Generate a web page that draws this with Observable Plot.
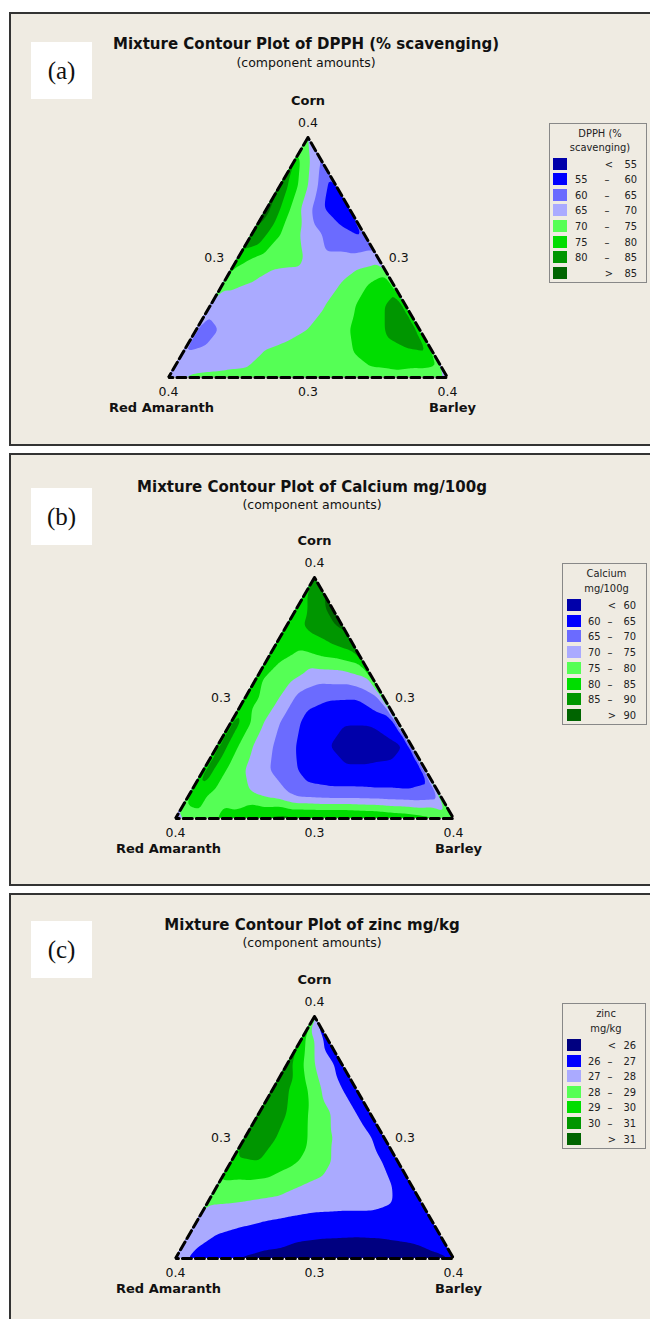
<!DOCTYPE html>
<html><head><meta charset="utf-8">
<script src="https://cdn.jsdelivr.net/npm/d3@7"></script>
<script src="https://cdn.jsdelivr.net/npm/@observablehq/plot@0.6"></script>
<style>
body{margin:0;background:#fff;width:650px;height:1319px;overflow:hidden;position:relative;font-family:"DejaVu Sans",Verdana,sans-serif;}
.panel{position:absolute;left:9px;width:660px;background:#EFEBE2;border:2px solid #333;box-sizing:border-box;}
.abs{position:absolute;white-space:nowrap;}
.title{font-weight:bold;font-size:15px;transform:translate(-50%,-50%);color:#111;}
.sub{font-size:12.5px;transform:translate(-50%,-50%);color:#111;}
.tag{background:#fff;font-family:"Liberation Serif","DejaVu Serif",serif;font-size:25px;display:flex;align-items:center;justify-content:center;color:#111;}
.legend{position:absolute;border:1px solid #888;box-sizing:border-box;background:#EFEBE2;}
.lt{font-family:"DejaVu Sans Condensed","DejaVu Sans",sans-serif;font-size:11px;color:#222;transform:translate(-50%,-50%);}
.lr{font-family:"DejaVu Sans Condensed","DejaVu Sans",sans-serif;font-size:11px;color:#222;transform:translateY(-50%);}
svg{position:absolute;left:0;}
</style>
</head><body>
<script>
// ---------- data ----------
const componentNames = ["Corn", "Red Amaranth", "Barley"];
const vertexAmount = "0.4";
const midAmount = "0.3";

// DPPH (% scavenging): values read on a triangular lattice, rows top (Corn) to bottom,
// each row left (Red Amaranth) to right (Barley)
const dpphBreaks = [55, 60, 65, 70, 75, 80, 85];
const dpphColors = ["#0000AA", "#0000FF", "#6B6BFF", "#AAAAFF", "#55FF55", "#00DD00", "#009600", "#006400"];
const dpphRows = [
  [70],
  [78, 64],
  [84, 70, 56],
  [87, 73, 60.5, 56],
  [86, 75, 68, 62, 59],
  [77, 73, 72, 66, 66, 68],
  [72, 70, 67, 67, 69, 74, 78],
  [66, 67, 67, 67.5, 69.5, 74, 79, 83],
  [63, 65.5, 67, 68, 70, 73, 77, 81, 82],
  [65, 66, 67, 70.5, 72, 73, 74.5, 78, 79.5, 80],
  [69.5, 71, 71.5, 72, 72, 72, 72, 72.5, 73, 72, 69]
];

// Calcium mg/100g
const calciumBreaks = [60, 65, 70, 75, 80, 85, 90];
const calciumColors = ["#0000AA", "#0000FF", "#6B6BFF", "#AAAAFF", "#55FF55", "#00DD00", "#009600", "#006400"];
const calciumRows = [
  [88],
  [83, 91],
  [82, 87, 91],
  [82, 80, 83, 86],
  [81, 78, 73, 73.5, 77],
  [83, 77, 68, 65.5, 65.2, 71],
  [89, 76.5, 68, 62, 60.5, 60.5, 64],
  [89.5, 77, 70, 64, 60.2, 57, 58, 61],
  [89, 78, 72, 67, 62, 61, 61, 61.5, 63],
  [84, 78, 76, 73, 68, 67, 67, 66.5, 66, 67],
  [73, 78, 82, 86, 87, 87, 87, 86, 84, 82, 77]
];

// zinc mg/kg
const zincBreaks = [26, 27, 28, 29, 30, 31];
const zincColors = ["#000080", "#0000FF", "#AAAAFF", "#55FF55", "#00DD00", "#009600", "#006400"];
const zincRows = [
  [27],
  [29.5, 26.5],
  [30.5, 28, 26.6],
  [30.7, 29.5, 27.5, 26.5],
  [30.8, 30, 28.7, 27.5, 26.5],
  [30.7, 30.1, 29.3, 28.1, 27.5, 26.6],
  [29.8, 30, 29.3, 28.6, 27.6, 27.3, 26.6],
  [28.8, 28.7, 28.5, 28, 27.6, 27.4, 27.2, 26.5],
  [27.8, 27.7, 27.5, 27.3, 27.1, 27.05, 27.05, 26.9, 26.5],
  [27.5, 27, 26.7, 26.4, 26.15, 26.08, 26.05, 26.08, 26.15, 26.4],
  [27.3, 26.6, 26.0, 25.8, 25.7, 25.6, 25.6, 25.6, 25.7, 25.8, 26.0]
];

const titles = ["Mixture Contour Plot of DPPH (% scavenging)", "Mixture Contour Plot of Calcium mg/100g", "Mixture Contour Plot of zinc mg/kg"];
const subtitle = "(component amounts)";
const tags = ["(a)", "(b)", "(c)"];
const legendTitles = [["DPPH (%", "scavenging)"], ["Calcium", "mg/100g"], ["zinc", "mg/kg"]];

// ---------- helpers ----------
const FONT = '"DejaVu Sans",Verdana,sans-serif';
function lattice(rows) {
  const n = rows.length - 1, pts = [];
  rows.forEach((row, k) => {
    const t = 1 - k / n;
    row.forEach((v, j) => { const b = j / n; pts.push({x: b + t / 2, y: t, v}); });
  });
  return pts;
}
function el(cls, left, top, text, extra) {
  const d = document.createElement("div");
  d.className = "abs " + cls;
  d.style.left = left + "px"; d.style.top = top + "px";
  if (text != null) d.textContent = text;
  if (extra) Object.assign(d.style, extra);
  document.body.appendChild(d);
  return d;
}

const layouts = [
  {top: 12, h: 434, L: 168, R: 447, T: 137, B: 377, tx: 306, ty: 44, sy: 62, tagTop: 42,
   lg: {l: 549, t: 123, w: 98, h: 160, t1: 133, t2: 147, r0: 163.5, dr: 15.6, sw: 553, n1: 575, dc: 607, n2: 637}},
  {top: 453, h: 433, L: 175, R: 453, T: 577, B: 818, tx: 312, ty: 487, sy: 504, tagTop: 488,
   lg: {l: 562, t: 563, w: 85, h: 162, t1: 573, t2: 588, r0: 605, dr: 15.7, sw: 567, n1: 588, dc: 610, n2: 636}},
  {top: 893, h: 440, L: 175, R: 453, T: 1016, B: 1258, tx: 312, ty: 925, sy: 942, tagTop: 921,
   lg: {l: 562, t: 1003, w: 84, h: 146, t1: 1013, t2: 1028, r0: 1045, dr: 15.6, sw: 567, n1: 588, dc: 610, n2: 636}}
];
const datasets = [
  {rows: dpphRows, breaks: dpphBreaks, colors: dpphColors, floor: 0},
  {rows: calciumRows, breaks: calciumBreaks, colors: calciumColors, floor: 0},
  {rows: zincRows, breaks: zincBreaks, colors: zincColors, floor: 0}
];

const triPts = [{x: 0.5, y: 1}, {x: 0, y: 0}, {x: 1, y: 0}, {x: 0.5, y: 1}];
const vertexPts = [
  {x: 0.5, y: 1, name: componentNames[0], amt: vertexAmount, pos: "top"},
  {x: 0, y: 0, name: componentNames[1], amt: vertexAmount, pos: "left"},
  {x: 1, y: 0, name: componentNames[2], amt: vertexAmount, pos: "right"}
];
const midPts = [
  {x: 0.25, y: 0.5, amt: midAmount, pos: "left"},
  {x: 0.75, y: 0.5, amt: midAmount, pos: "right"},
  {x: 0.5, y: 0, amt: midAmount, pos: "bottom"}
];

layouts.forEach((L, i) => {
  const D = datasets[i];
  const p = document.createElement("div");
  p.className = "panel"; p.style.top = L.top + "px"; p.style.height = L.h + "px";
  document.body.appendChild(p);

  const pts = lattice(D.rows);
  const txt = {fontFamily: FONT, fill: "#111"};
  const plot = Plot.plot({
    width: 650, height: L.h,
    marginLeft: L.L, marginRight: 650 - L.R, marginTop: L.T - L.top, marginBottom: L.top + L.h - L.B,
    x: {domain: [0, 1], axis: null},
    y: {domain: [0, 1], axis: null},
    color: {type: "threshold", domain: D.breaks, range: D.colors},
    style: {background: "transparent", overflow: "visible", fontFamily: FONT},
    marks: [
      Plot.areaY(triPts.slice(0, 3), {x: "x", y: "y", fill: D.colors[0]}),
      Plot.contour(pts, {x: "x", y: "y", fill: "v", thresholds: [D.floor, ...D.breaks], interpolate: "barycentric", blur: 1, stroke: "none"}),
      Plot.line(triPts, {x: "x", y: "y", stroke: "#000", strokeWidth: 3, strokeDasharray: "9,4", strokeLinejoin: "miter"}),
      Plot.text(vertexPts.filter(d => d.pos === "top"), {x: "x", y: "y", text: "name", dy: -37, fontWeight: "bold", fontSize: 13, ...txt}),
      Plot.text(vertexPts.filter(d => d.pos === "top"), {x: "x", y: "y", text: "amt", dy: -15, fontSize: 12.5, ...txt}),
      Plot.text(vertexPts.filter(d => d.pos !== "top"), {x: "x", y: "y", text: "amt", dy: 14, fontSize: 12.5, ...txt}),
      Plot.text(vertexPts.filter(d => d.pos === "left"), {x: "x", y: "y", text: "name", dy: 30, dx: -7, fontWeight: "bold", fontSize: 13, ...txt}),
      Plot.text(vertexPts.filter(d => d.pos === "right"), {x: "x", y: "y", text: "name", dy: 30, dx: 5, fontWeight: "bold", fontSize: 13, ...txt}),
      Plot.text(midPts.filter(d => d.pos === "left"), {x: "x", y: "y", text: "amt", dx: -24, fontSize: 12.5, ...txt}),
      Plot.text(midPts.filter(d => d.pos === "right"), {x: "x", y: "y", text: "amt", dx: 21, fontSize: 12.5, ...txt}),
      Plot.text(midPts.filter(d => d.pos === "bottom"), {x: "x", y: "y", text: "amt", dy: 14, fontSize: 12.5, ...txt})
    ]
  });
  plot.style.top = L.top + "px";
  plot.style.position = "absolute";
  plot.style.maxWidth = "none";
  document.body.appendChild(plot);

  // clip the contour fill to the triangle, using the plot's own scales
  const sx = plot.scale("x"), sy = plot.scale("y");
  const d = triPts.slice(0, 3).map((q, k) => (k ? "L" : "M") + sx.apply(q.x) + "," + sy.apply(q.y)).join("") + "Z";
  const ns = "http://www.w3.org/2000/svg";
  const defs = document.createElementNS(ns, "defs");
  const cp = document.createElementNS(ns, "clipPath");
  cp.setAttribute("id", "tri" + i);
  const path = document.createElementNS(ns, "path");
  path.setAttribute("d", d);
  cp.appendChild(path); defs.appendChild(cp);
  plot.insertBefore(defs, plot.firstChild);
  const cg = plot.querySelector('g[aria-label="contour"]');
  if (cg) {
    const wrap = document.createElementNS(ns, "g");
    wrap.setAttribute("clip-path", `url(#tri${i})`);
    cg.parentNode.insertBefore(wrap, cg);
    wrap.appendChild(cg);
  }

  // titles & tag
  el("title", L.tx, L.ty, titles[i]);
  el("sub", L.tx, L.sy, subtitle);
  el("tag", 31, L.tagTop, tags[i], {width: "61px", height: "57px"});

  // legend
  const g = L.lg;
  const box = document.createElement("div");
  box.className = "legend";
  Object.assign(box.style, {left: g.l + "px", top: g.t + "px", width: g.w + "px", height: g.h + "px"});
  document.body.appendChild(box);
  const cx = g.l + g.w / 2 + 2;
  el("lt", cx, g.t1, legendTitles[i][0]);
  el("lt", cx, g.t2, legendTitles[i][1]);
  const nb = D.breaks.length;
  D.colors.forEach((c, k) => {
    const y = g.r0 + k * g.dr;
    el("", g.sw, y - 6, null, {width: "14px", height: "12px", background: c});
    if (k === 0) {
      el("lt", g.dc + 2, y, "<");
      el("lr", g.n2, y, String(D.breaks[0]), {transform: "translate(-100%,-50%)"});
    } else if (k === nb) {
      el("lt", g.dc + 2, y, ">");
      el("lr", g.n2, y, String(D.breaks[nb - 1]), {transform: "translate(-100%,-50%)"});
    } else {
      el("lr", g.n1, y, String(D.breaks[k - 1]));
      el("lt", g.dc, y, "–");
      el("lr", g.n2, y, String(D.breaks[k]), {transform: "translate(-100%,-50%)"});
    }
  });
});
</script>
</body></html>
